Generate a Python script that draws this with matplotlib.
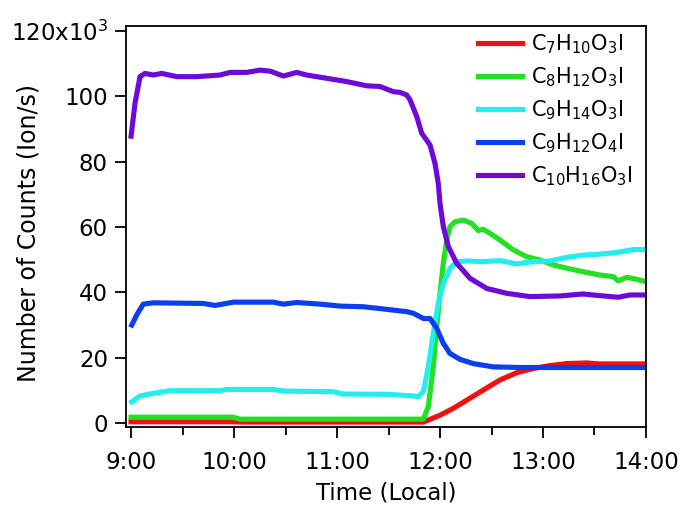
import matplotlib.pyplot as plt
from matplotlib.ticker import MultipleLocator, FuncFormatter

# time in decimal hours (local), counts in 10^3 ion/s
t_c7 = [9.0, 9.99, 10.06, 11.838, 12.0, 12.129, 12.259, 12.42, 12.583, 12.745,
        12.906, 13.068, 13.23, 13.424, 13.553, 14.0]
c7 = [0.4, 0.4, 0.3, 0.3, 2.4, 4.5, 7.0, 10.1, 13.2, 15.4,
      16.7, 17.6, 18.2, 18.4, 18.1, 18.1]

t_c8 = [9.0, 9.99, 10.06, 11.838, 11.886, 11.935, 11.968, 12.0, 12.032, 12.065,
        12.097, 12.146, 12.226, 12.308, 12.372, 12.42, 12.485, 12.583, 12.712,
        12.842, 12.971, 13.1, 13.23, 13.391, 13.553, 13.683, 13.731, 13.813,
        13.91, 14.0]
c8 = [1.8, 1.8, 1.2, 1.2, 5.0, 17.2, 29.5, 39.7, 48.9, 56.0,
      60.1, 61.6, 62.1, 61.1, 58.9, 59.3, 58.1, 56.0, 53.0,
      50.9, 49.9, 48.4, 47.4, 46.3, 45.3, 44.8, 43.5, 44.6,
      44.0, 43.3]

t_c9a = [9.007, 9.087, 9.217, 9.379, 9.864, 9.929, 10.382, 10.479, 10.964,
         11.061, 11.483, 11.741, 11.789, 11.838, 11.886, 11.935, 11.983,
         12.032, 12.097, 12.162, 12.259, 12.42, 12.583, 12.745, 12.906,
         13.068, 13.23, 13.391, 13.553, 13.716, 13.877, 14.0]
c9a = [6.5, 8.3, 9.1, 9.9, 9.9, 10.3, 10.3, 9.8, 9.6,
       8.9, 8.8, 8.3, 8.1, 9.6, 17.2, 27.4, 36.6,
       42.7, 47.3, 49.4, 49.6, 49.4, 49.7, 48.7, 49.4,
       49.6, 50.7, 51.4, 51.7, 52.2, 53.1, 53.1]

t_c9b = [9.007, 9.055, 9.119, 9.217, 9.702, 9.816, 9.993, 10.382, 10.479,
         10.609, 10.835, 11.029, 11.255, 11.483, 11.677, 11.741, 11.838,
         11.903, 11.968, 12.032, 12.097, 12.194, 12.323, 12.517, 12.777, 14.0]
c9b = [30.0, 33.1, 36.4, 36.8, 36.6, 36.0, 37.0, 37.0, 36.4,
       36.9, 36.4, 35.8, 35.6, 34.8, 34.1, 33.6, 32.0,
       32.0, 29.0, 24.4, 21.3, 19.5, 18.2, 17.2, 17.0, 17.0]

t_c10 = [9.0, 9.039, 9.087, 9.136, 9.214, 9.298, 9.444, 9.638, 9.864, 9.961,
         10.123, 10.252, 10.35, 10.479, 10.609, 10.706, 10.9, 11.094, 11.288,
         11.417, 11.547, 11.612, 11.677, 11.709, 11.774, 11.822, 11.903,
         11.951, 11.983, 12.0, 12.032, 12.081, 12.162, 12.291, 12.453, 12.648,
         12.874, 13.165, 13.388, 13.553, 13.728, 13.845, 14.0]
c10 = [87.8, 98.0, 106.0, 107.0, 106.5, 107.0, 106.0, 106.0, 106.5, 107.3,
       107.3, 108.0, 107.7, 106.2, 107.3, 106.5, 105.5, 104.5, 103.2,
       103.0, 101.4, 101.2, 100.4, 98.9, 93.8, 88.7, 85.1,
       79.5, 73.4, 67.2, 60.1, 54.0, 48.9, 44.3, 41.2, 39.7,
       38.7, 38.9, 39.5, 39.0, 38.5, 39.2, 39.2]

series = [
    (t_c7, c7, r"C$_7$H$_{10}$O$_3$I", "#f01010"),
    (t_c8, c8, r"C$_8$H$_{12}$O$_3$I", "#22e022"),
    (t_c9a, c9a, r"C$_9$H$_{14}$O$_3$I", "#22eeee"),
    (t_c9b, c9b, r"C$_9$H$_{12}$O$_4$I", "#0a3ef0"),
    (t_c10, c10, r"C$_{10}$H$_{16}$O$_3$I", "#6e0ad8"),
]

plt.rcParams["font.family"] = "DejaVu Sans"
plt.rcParams["mathtext.fontset"] = "dejavusans"

fig = plt.figure(figsize=(6.83, 5.07), dpi=100)
ax = fig.add_axes([0.1845, 0.1578, 0.7613, 0.7909])

for t, v, lab, col in series:
    ax.plot(t, v, color=col, lw=3.7, label=lab, solid_joinstyle="round")

ax.set_xlim(8.951, 14.0)
ax.set_ylim(-1.2, 121.5)

ax.xaxis.set_major_locator(MultipleLocator(1))
ax.xaxis.set_minor_locator(MultipleLocator(0.5))
ax.yaxis.set_major_locator(MultipleLocator(20))
ax.xaxis.set_major_formatter(FuncFormatter(lambda x, p: "%d:00" % round(x)))
ax.yaxis.set_major_formatter(
    FuncFormatter(lambda y, p: r"120x10$^{3}$" if round(y) == 120 else "%d" % round(y)))

ax.tick_params(which="major", direction="out", length=8, width=1.3,
               labelsize=16.5, pad=5, top=False, right=False)
ax.tick_params(which="minor", direction="out", length=6, width=1.3,
               top=False, right=False)
ax.tick_params(axis="x", which="major", pad=9)
for s in ax.spines.values():
    s.set_linewidth(1.3)

ax.set_xlabel("Time (Local)", fontsize=16.5, labelpad=6)
ax.set_ylabel("Number of Counts (Ion/s)", fontsize=17)
ax.yaxis.set_label_coords(-0.165, 0.484)

ax.legend(loc="upper left", bbox_to_anchor=(0.677, 0.985), frameon=False,
          fontsize=15, handlelength=2.1, handletextpad=0.45,
          labelspacing=0.45, borderpad=0, borderaxespad=0)

fig.savefig("out.png", dpi=100)
